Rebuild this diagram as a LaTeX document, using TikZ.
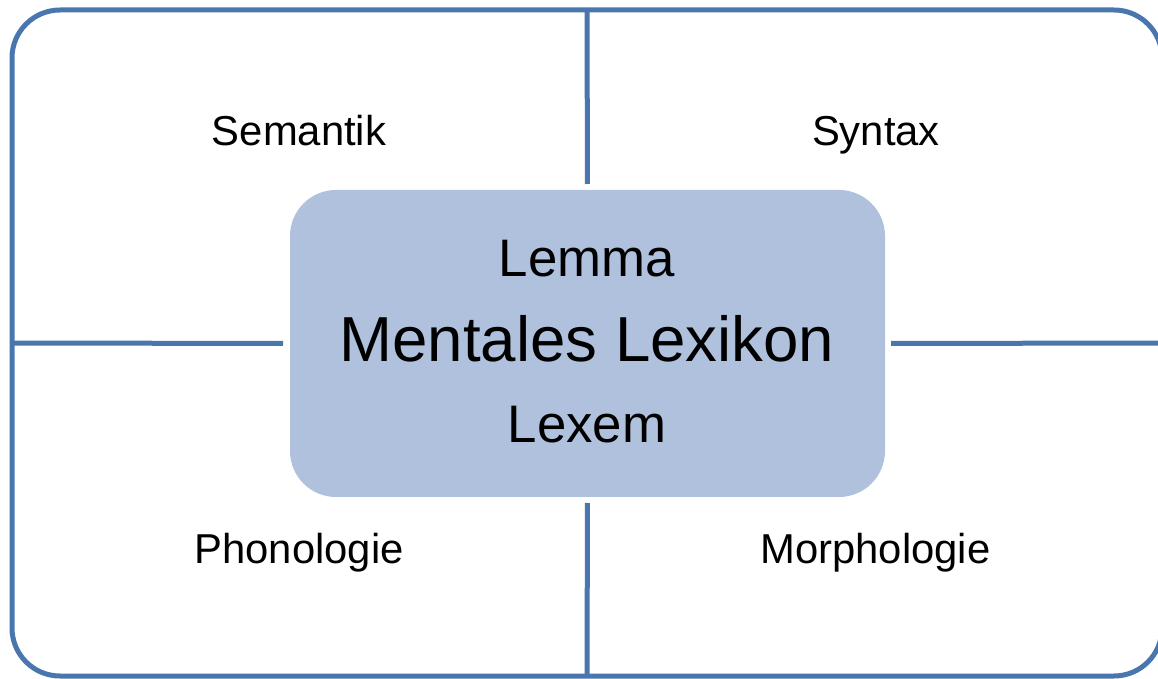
\documentclass[tikz,border=0pt]{standalone}
\usepackage{fontspec}
\setmainfont{Liberation Sans}
\usetikzlibrary{positioning}

\definecolor{frameblue}{RGB}{74,118,175}
\definecolor{boxblue}{RGB}{176,193,221}

\tikzset{
    field/.style={anchor=base, inner sep=0pt, font=\fontsize{20.9}{25}\selectfont},
    divider/.style={line width=2.5pt, draw=frameblue, shorten >=3pt},
}

\begin{document}
\begin{tikzpicture}[x=0.5pt,y=-0.5pt]
        \useasboundingbox (0,0) rectangle (1158,679);

        % Outer frame and centre box
        \node[draw=frameblue, line width=2.5pt, rounded corners=24pt, outer sep=0pt,
              minimum width=575pt, minimum height=333pt] (frame) at (587,343) {};
        \node[fill=boxblue, rounded corners=23pt, outer sep=0pt,
              minimum width=297.5pt, minimum height=153.5pt] (lexikon) at (587.5,343.5) {};

        % Draw dividers
        \draw[divider] (frame.north) -- (lexikon.north);
        \draw[divider] (frame.south) -- (lexikon.south);
        \draw[divider, shorten >=3.5pt] (frame.west) -- (lexikon.west);
        \draw[divider] (frame.east) -- (lexikon.east);

        % Labels in the four fields
        \node[field] (semantik) at (299,146) {Semantik};
        \node[field] (syntax) at (876,146) {Syntax};
        \node[field] (phonologie) at (299,563) {Phonologie};
        \node[field] (morphologie) at (875.5,563) {Morphologie};

        % Labels in the centre box
        \node[field, font=\fontsize{26.4}{30}\selectfont] (lemma) at (587,277) {Lemma};
        \node[field, font=\fontsize{31.8}{36}\selectfont] (mentales) at (587,362) {Mentales Lexikon};
        \node[field, font=\fontsize{26.4}{30}\selectfont] (lexem) at (587,443) {Lexem};
\end{tikzpicture}
\end{document}
